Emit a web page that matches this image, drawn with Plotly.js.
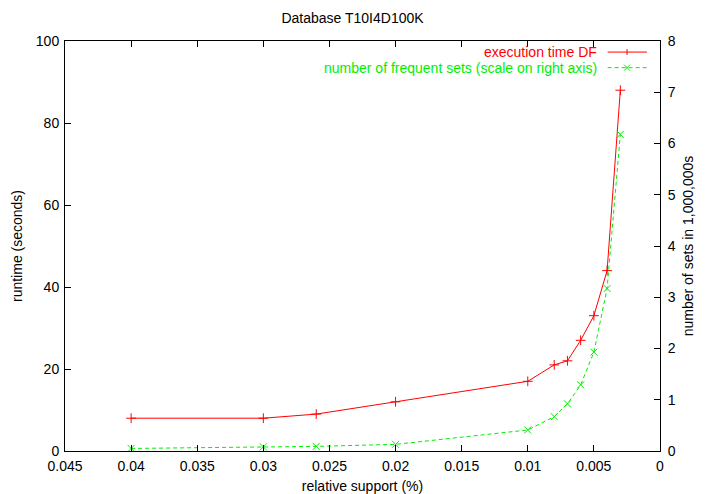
<!DOCTYPE html>
<html>
<head>
<meta charset="utf-8">
<script src="https://cdn.plot.ly/plotly-3.0.1.min.js"></script>
<style>html,body{margin:0;padding:0;background:#fff;}#chart{width:705px;height:494px;}</style>
</head>
<body>
<div id="chart"></div>
<script>
// relative support (%) values
const support = [0.04, 0.03, 0.026, 0.02, 0.01, 0.008, 0.007, 0.006, 0.005, 0.004, 0.003];
// execution time DF (seconds)
const runtimeDF = [8, 8, 9, 12, 17, 21, 22, 27, 33, 44, 88];
// number of frequent sets (millions)
const freqSets = [0.05, 0.08, 0.09, 0.13, 0.41, 0.67, 0.92, 1.29, 1.93, 3.17, 6.18];

const seriesNames = ["execution time DF", "number of frequent sets (scale on right axis)"];
const xTicks = [0.045, 0.04, 0.035, 0.03, 0.025, 0.02, 0.015, 0.01, 0.005, 0];
const xTickText = ["0.045", "0.04", "0.035", "0.03", "0.025", "0.02", "0.015", "0.01", "0.005", "0"];
const yTicks = [0, 20, 40, 60, 80, 100];
const y2Ticks = [0, 1, 2, 3, 4, 5, 6, 7, 8];

const RED = "#ff0000", GREEN = "#00ee00";
const FONT = "Liberation Sans, Arial, sans-serif";
const FS = 14;

const traces = [
  {
    x: support, y: runtimeDF, name: seriesNames[0], type: "scatter", mode: "lines+markers",
    line: {color: RED, width: 1},
    marker: {symbol: "cross-thin", size: 7, line: {color: RED, width: 1}, color: RED},
    yaxis: "y", showlegend: false
  },
  {
    x: support, y: freqSets, name: seriesNames[1], type: "scatter", mode: "lines+markers",
    line: {color: GREEN, width: 1, dash: "4px,3px"},
    marker: {symbol: "x-thin", size: 7, line: {color: GREEN, width: 1}, color: GREEN},
    yaxis: "y2", showlegend: false
  }
];

const axisCommon = {
  showgrid: false, zeroline: false, showline: true, linecolor: "#000", linewidth: 1,
  ticks: "inside", ticklen: 6, tickcolor: "#000", tickwidth: 1,
  tickfont: {family: FONT, size: FS, color: "#000"}
};

const layout = {
  width: 705, height: 494,
  margin: {l: 65, r: 45, t: 41, b: 43},
  paper_bgcolor: "#fff", plot_bgcolor: "#fff",
  font: {family: FONT, size: FS, color: "#000"},
  title: {text: "Database T10I4D100K", x: 0.5, xanchor: "center", y: 1 - 18 / 494, yanchor: "middle",
          font: {family: FONT, size: FS, color: "#000"}},
  xaxis: Object.assign({}, axisCommon, {
    range: [0.045, 0], tickvals: xTicks, ticktext: xTickText, mirror: "ticks",
    ticklabelstandoff: 2,
    title: {text: "relative support (%)", standoff: 8, font: {family: FONT, size: FS}}
  }),
  yaxis: Object.assign({}, axisCommon, {
    range: [0, 100], tickvals: yTicks,
    ticklabelstandoff: 2,
    title: {text: "runtime (seconds)", standoff: 9, font: {family: FONT, size: FS}}
  }),
  yaxis2: Object.assign({}, axisCommon, {
    range: [0, 8], tickvals: y2Ticks, overlaying: "y", side: "right",
    ticklabelstandoff: 4,
    title: {text: "number of sets in 1,000,000s", standoff: 8, font: {family: FONT, size: FS}}
  }),
  showlegend: false,
  annotations: [
    {xref: "paper", yref: "paper", x: 0.897, y: 0.973, xanchor: "right", yanchor: "middle",
     text: seriesNames[0], showarrow: false, font: {family: FONT, size: FS, color: RED}},
    {xref: "paper", yref: "paper", x: 0.897, y: 0.935, xanchor: "right", yanchor: "middle",
     text: seriesNames[1], showarrow: false, font: {family: FONT, size: FS, color: GREEN}}
  ],
  shapes: [
    {type: "line", xref: "paper", yref: "paper", x0: 0.912, x1: 0.978, y0: 0.973, y1: 0.973,
     line: {color: RED, width: 1}},
    {type: "line", xref: "paper", yref: "paper", x0: 0.912, x1: 0.978, y0: 0.935, y1: 0.935,
     line: {color: GREEN, width: 1, dash: "4px,3px"}},
    // legend sample "+" marker
    {type: "line", xref: "paper", yref: "paper", x0: 0.9446, x1: 0.9446, y0: 0.973 - 3 / 410, y1: 0.973 + 3 / 410,
     line: {color: RED, width: 1}},
    // legend sample "x" marker
    {type: "line", xref: "paper", yref: "paper", x0: 0.9446 - 3 / 595, x1: 0.9446 + 3 / 595,
     y0: 0.935 - 3 / 410, y1: 0.935 + 3 / 410, line: {color: GREEN, width: 1}},
    {type: "line", xref: "paper", yref: "paper", x0: 0.9446 - 3 / 595, x1: 0.9446 + 3 / 595,
     y0: 0.935 + 3 / 410, y1: 0.935 - 3 / 410, line: {color: GREEN, width: 1}}
  ]
};

Plotly.newPlot("chart", traces, layout, {displayModeBar: false, staticPlot: true});
</script>
</body>
</html>
